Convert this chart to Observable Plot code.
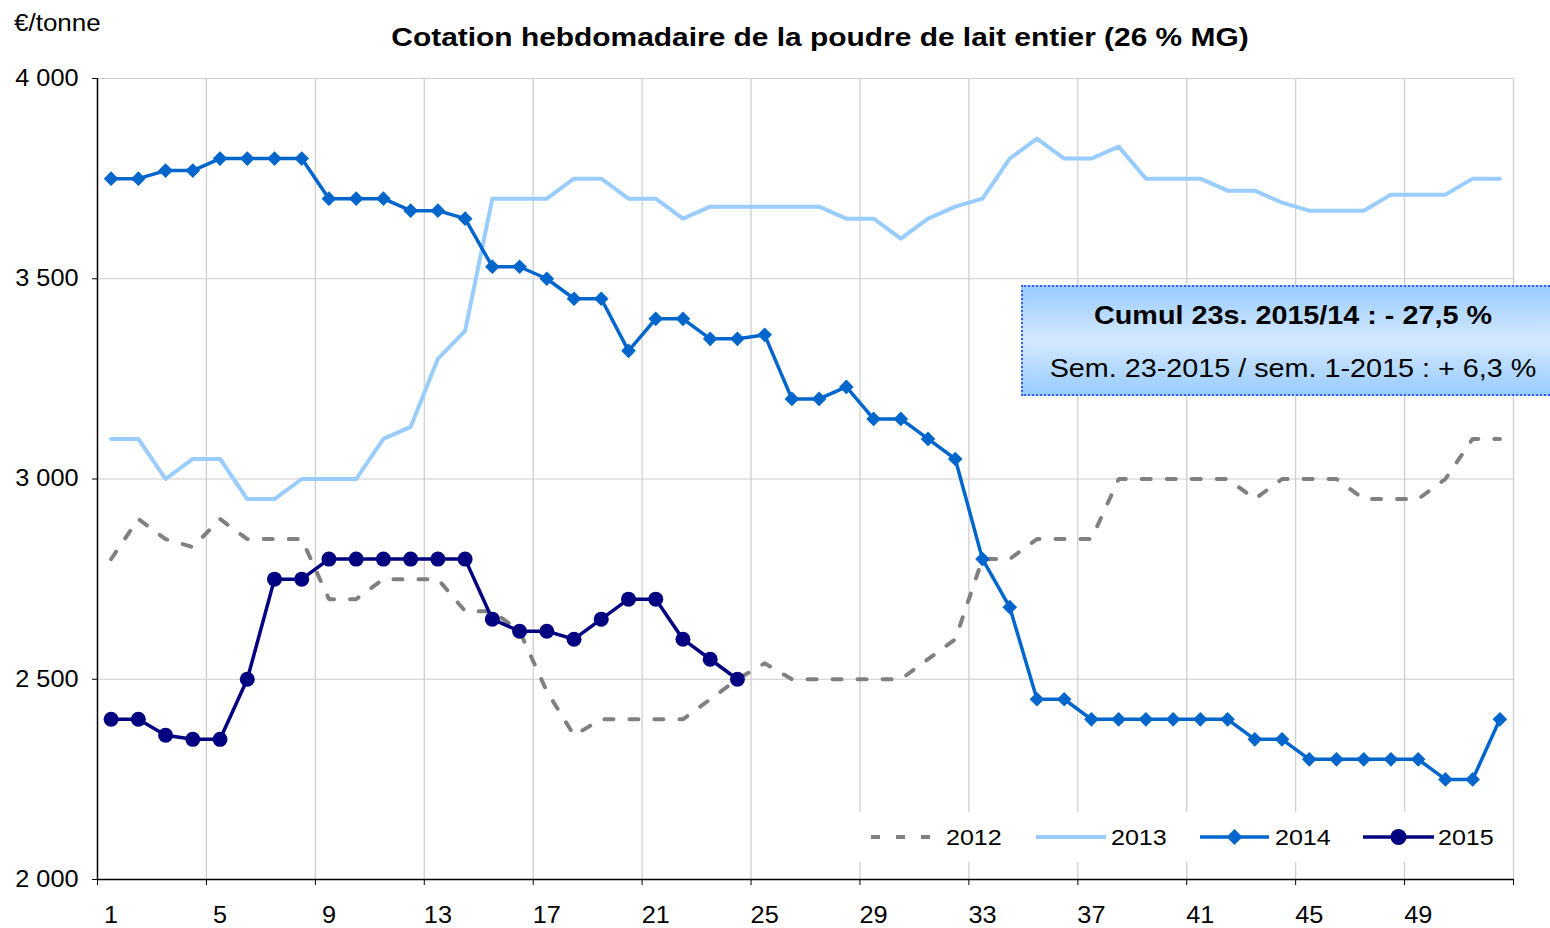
<!DOCTYPE html>
<html>
<head>
<meta charset="utf-8">
<script src="https://cdn.jsdelivr.net/npm/d3@7"></script>
<script src="https://cdn.jsdelivr.net/npm/@observablehq/plot@0.6"></script>
<style>
  html, body { margin: 0; padding: 0; background: #fff; overflow: hidden; }
  #wrap { position: relative; width: 1550px; height: 928px; overflow: hidden; font-family: "Liberation Sans", Arial, sans-serif; color: #000; }
  .abs { position: absolute; white-space: nowrap; }
  #title { left: 0; width: 1640px; top: 21px; text-align: center; font-weight: bold; font-size: 26px; line-height: 32px; transform: scaleX(1.15); transform-origin: 820px 0; }
  #unit { left: 14px; top: 10px; font-size: 23px; line-height: 26px; transform: scaleX(1.13); transform-origin: 0 0; }
  #note { left: 1021px; top: 285px; width: 640px; height: 111px; box-sizing: border-box; border: 2px dotted #3d5cff;
          background: linear-gradient(to bottom, #99ccff 0%, #d4e9ff 50%, #99ccff 100%); }
  #note div { position: absolute; left: 0; width: 540px; text-align: center; font-size: 25px; line-height: 30px; transform: scaleX(1.15); transform-origin: 50% 0; }
</style>
</head>
<body>
<div id="wrap">
  <div id="chart"></div>
  <div id="title" class="abs">Cotation hebdomadaire de la poudre de lait entier (26 % MG)</div>
  <div id="unit" class="abs">€/tonne</div>
  <div id="note" class="abs">
    <div style="top:13px;font-weight:bold;">Cumul 23s. 2015/14 : - 27,5 %</div>
    <div style="top:66px;">Sem. 23-2015 / sem. 1-2015 : + 6,3 %</div>
  </div>
</div>
<script>
// ---- data ----
const weeks = [1,2,3,4,5,6,7,8,9,10,11,12,13,14,15,16,17,18,19,20,21,22,23,24,25,26,27,28,29,30,31,32,33,34,35,36,37,38,39,40,41,42,43,44,45,46,47,48,49,50,51,52];
const prix2012 = [2800,2900,2850,2830,2900,2850,2850,2850,2700,2700,2750,2750,2750,2670,2670,2620,2470,2360,2400,2400,2400,2400,2450,2500,2540,2500,2500,2500,2500,2500,2550,2600,2800,2800,2850,2850,2850,3000,3000,3000,3000,3000,2950,3000,3000,3000,2950,2950,2950,3000,3100,3100];
const prix2013 = [3100,3100,3000,3050,3050,2950,2950,3000,3000,3000,3100,3130,3300,3370,3700,3700,3700,3750,3750,3700,3700,3650,3680,3680,3680,3680,3680,3650,3650,3600,3650,3680,3700,3800,3850,3800,3800,3830,3750,3750,3750,3720,3720,3690,3670,3670,3670,3710,3710,3710,3750,3750];
const prix2014 = [3750,3750,3770,3770,3800,3800,3800,3800,3700,3700,3700,3670,3670,3650,3530,3530,3500,3450,3450,3320,3400,3400,3350,3350,3360,3200,3200,3230,3150,3150,3100,3050,2800,2680,2450,2450,2400,2400,2400,2400,2400,2400,2350,2350,2300,2300,2300,2300,2300,2250,2250,2400];
const prix2015 = [2400,2400,2360,2350,2350,2500,2750,2750,2800,2800,2800,2800,2800,2800,2650,2620,2620,2600,2650,2700,2700,2600,2550,2500];
const years = ["2012","2013","2014","2015"];
const colors = ["#808080","#99ccff","#0066cc","#000080"];
const weekTicks = [1,5,9,13,17,21,25,29,33,37,41,45,49];
const weekBounds = [0.5,4.5,8.5,12.5,16.5,20.5,24.5,28.5,32.5,36.5,40.5,44.5,48.5,52.5];
const yTicks = [2000,2500,3000,3500,4000];

const rows = (vals) => vals.map((v, i) => ({week: weeks[i], value: v}));
const d2012 = rows(prix2012), d2013 = rows(prix2013), d2014 = rows(prix2014), d2015 = rows(prix2015);
const fmt = d => d3.format(",")(d).replace(",", " ");

const chart = Plot.plot({
  width: 1550, height: 928,
  marginTop: 78, marginRight: 37, marginBottom: 49, marginLeft: 97,
  x: {type: "linear", domain: [0.5, 52.5]},
  y: {domain: [2000, 4000]},
  style: {fontFamily: "'Liberation Sans', Arial, sans-serif", fontSize: "23px", color: "#000", background: "#fff", overflow: "visible"},
  marks: [
    Plot.ruleY(yTicks.slice(1), {stroke: "#cccccc", strokeWidth: 1.2}),
    Plot.ruleX(weekBounds.slice(1), {stroke: "#cccccc", strokeWidth: 1.2}),
    Plot.axisY(yTicks, {tickSize: 5, tickPadding: 14, tickFormat: fmt, label: null, fontSize: 23}),
    Plot.axisX(weekTicks, {tickSize: 0, tickPadding: 27, label: null, fontSize: 23}),
    Plot.axisX(weekBounds, {tickSize: 6, tickFormat: () => "", label: null}),
    Plot.ruleX([0.5], {stroke: "#000", strokeWidth: 1.5}),
    Plot.ruleY([2000], {stroke: "#000", strokeWidth: 1.5}),
    Plot.line(d2012, {x: "week", y: "value", stroke: colors[0], strokeWidth: 4, strokeDasharray: "9,16", strokeLinejoin: "miter"}),
    Plot.line(d2013, {x: "week", y: "value", stroke: colors[1], strokeWidth: 4}),
    Plot.line(d2014, {x: "week", y: "value", stroke: colors[2], strokeWidth: 3.5}),
    Plot.dot(d2014, {x: "week", y: "value", symbol: "diamond2", r: 6.6, fill: colors[2], stroke: null}),
    Plot.line(d2015, {x: "week", y: "value", stroke: colors[3], strokeWidth: 3.5}),
    Plot.dot(d2015, {x: "week", y: "value", symbol: "circle", r: 7.5, fill: colors[3], stroke: null})
  ]
});

// stretch texts horizontally like the reference rendering
chart.querySelectorAll("text").forEach(t => {
  const x = +t.getAttribute("x") || 0, y = +t.getAttribute("y") || 0;
  const tr = t.getAttribute("transform") || "";
  t.setAttribute("transform", `${tr} translate(${x},${y}) scale(1.1,1) translate(${-x},${-y})`);
});
document.getElementById("chart").appendChild(chart);

// legend overlay
const ns = "http://www.w3.org/2000/svg";
const leg = document.createElementNS(ns, "svg");
leg.setAttribute("width", 1550); leg.setAttribute("height", 928);
leg.style.position = "absolute"; leg.style.left = "0"; leg.style.top = "0"; leg.style.pointerEvents = "none";
const ly = 837;
const items = [
  {x1: 871, x2: 931, tx: 946, dash: "9,16", w: 4, sym: null},
  {x1: 1036, x2: 1106, tx: 1111, dash: null, w: 4, sym: null},
  {x1: 1200, x2: 1269, tx: 1275, dash: null, w: 3.5, sym: "diamond"},
  {x1: 1363, x2: 1434, tx: 1438, dash: null, w: 3.5, sym: "circle"}
];
let html = `<rect x="857" y="812" width="651" height="50" fill="#fff"/>`;
items.forEach((it, i) => {
  html += `<line x1="${it.x1}" x2="${it.x2}" y1="${ly}" y2="${ly}" stroke="${colors[i]}" stroke-width="${it.w}" ${it.dash ? `stroke-dasharray="${it.dash}"` : ""}/>`;
  const cx = (it.x1 + it.x2) / 2;
  if (it.sym === "diamond") html += `<path d="M${cx},${ly-8}L${cx+8},${ly}L${cx},${ly+8}L${cx-8},${ly}Z" fill="${colors[i]}"/>`;
  if (it.sym === "circle") html += `<circle cx="${cx}" cy="${ly}" r="8" fill="${colors[i]}"/>`;
  html += `<text x="${it.tx}" y="${ly}" dy="0.36em" font-family="'Liberation Sans', Arial, sans-serif" font-size="22" fill="#000" transform="translate(${it.tx},${ly}) scale(1.14,1) translate(${-it.tx},${-ly})">${years[i]}</text>`;
});
leg.innerHTML = html;
document.getElementById("wrap").insertBefore(leg, document.getElementById("title"));
</script>
</body>
</html>
